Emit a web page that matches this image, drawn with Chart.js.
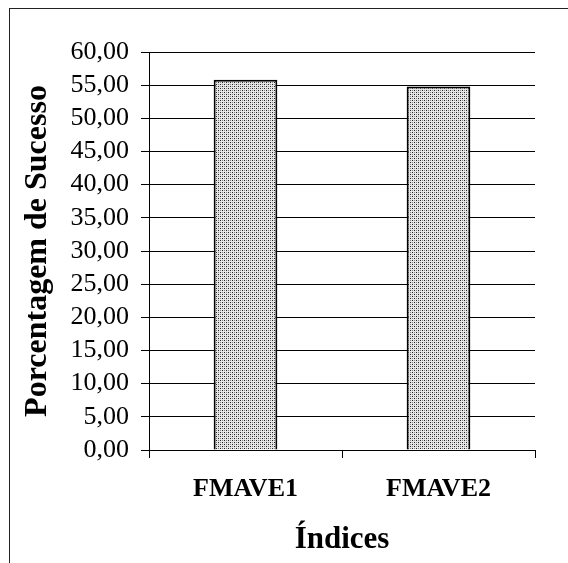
<!DOCTYPE html>
<html>
<head>
<meta charset="utf-8">
<script src="https://cdn.jsdelivr.net/npm/chart.js@4.4.1/dist/chart.umd.min.js"></script>
<style>
    html, body { margin: 0; padding: 0; background: #fff; overflow: hidden; }
    #wrap { position: relative; width: 568px; height: 563px; }
    #frame { position: absolute; left: 9px; top: 8px; width: 620px; height: 620px; border: 1px solid #222; }
    canvas { position: absolute; left: 0; top: 0; }
</style>
</head>
<body>
<div id="wrap">
    <div id="frame"></div>
    <canvas id="barChart" width="568" height="563"></canvas>
</div>
<script>
const categories = ['FMAVE1', 'FMAVE2'];
const successValues = [55.8, 54.8];
const yAxisTitle = 'Porcentagem de Sucesso';
const xAxisTitle = 'Índices';

// dotted grey fill like the old office pattern
function dotPattern() {
    const c = document.createElement('canvas');
    c.width = 4;
    c.height = 4;
    const p = c.getContext('2d');
    p.fillStyle = '#e6e6e6';
    p.fillRect(0, 0, 4, 4);
    p.fillStyle = '#222';
    p.fillRect(0, 0, 1, 1);
    p.fillRect(2, 2, 1, 1);
    p.fillStyle = '#888';
    p.fillRect(2, 0, 1, 1);
    p.fillRect(0, 2, 1, 1);
    return p.createPattern(c, 'repeat');
}

const ctx = document.getElementById('barChart').getContext('2d');

new Chart(ctx, {
    type: 'bar',
    data: {
        labels: categories,
        datasets: [{
            data: successValues,
            backgroundColor: dotPattern(),
            borderColor: '#000',
            borderWidth: 2,
            barPercentage: 0.33,
            categoryPercentage: 1.0
        }]
    },
    options: {
        responsive: false,
        animation: false,
        events: [],
        layout: { padding: { top: 52, right: 33, left: 0, bottom: 0 } },
        plugins: { legend: { display: false }, tooltip: { enabled: false } },
        scales: {
            x: {
                grid: { drawOnChartArea: false, color: '#000', tickLength: 8 },
                border: { color: '#000', width: 1 },
                ticks: {
                    color: '#000',
                    padding: 16,
                    font: { family: 'Liberation Serif', size: 26, weight: 'bold' }
                },
                title: {
                    display: true,
                    text: xAxisTitle,
                    color: '#000',
                    padding: { top: 8, bottom: 4 },
                    font: { family: 'Liberation Serif', size: 31, weight: 'bold' }
                },
                afterFit: function (scale) { scale.height = 113; }
            },
            y: {
                min: 0,
                max: 60,
                grid: { color: '#000', tickLength: 8 },
                border: { color: '#000', width: 1 },
                ticks: {
                    stepSize: 5,
                    autoSkip: false,
                    color: '#000',
                    padding: 12,
                    font: { family: 'Liberation Serif', size: 26 },
                    callback: v => v.toFixed(2).replace('.', ',')
                },
                title: {
                    display: true,
                    text: yAxisTitle,
                    color: '#000',
                    padding: { top: 19, bottom: 0 },
                    font: { family: 'Liberation Serif', size: 32, weight: 'bold' }
                },
                afterFit: function (scale) { scale.width = 149; }
            }
        }
    }
});
</script>
</body>
</html>
